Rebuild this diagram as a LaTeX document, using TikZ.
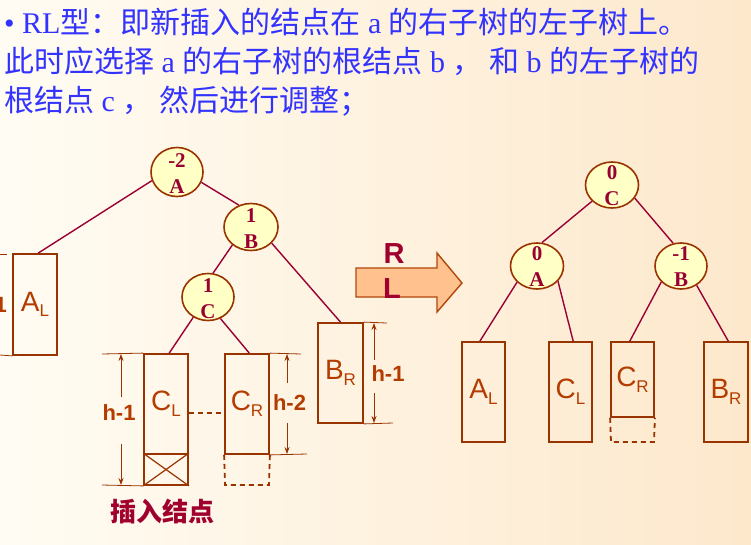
\documentclass[tikz,border=0pt]{standalone}
\usepackage{fontspec}
\setmainfont{Liberation Serif}
\setsansfont{Liberation Sans}
\newfontfamily\cjk{Noto Sans CJK SC}
\usetikzlibrary{arrows.meta,calc,shapes.geometric}
\definecolor{bgA}{HTML}{FFFCF3}
\definecolor{bgB}{HTML}{FDE8CC}
\definecolor{titleblue}{HTML}{3333FF}
\definecolor{nodefill}{HTML}{FFFFC6}
\definecolor{brownline}{HTML}{993300}
\definecolor{edgered}{HTML}{990033}
\definecolor{labelcol}{HTML}{B43C00}
\definecolor{darkred}{HTML}{A0002E}
\definecolor{arrowfill}{HTML}{FFC18E}
\definecolor{arrowline}{HTML}{B0460A}
\newcommand\sublab[2]{#1\raisebox{-0.2em}{\fontsize{17}{17}\selectfont #2}}
\begin{document}
\begin{tikzpicture}[x=1pt,y=-1pt,
  bal/.style={ellipse, draw=brownline, line width=1.6pt, fill=nodefill, minimum width=53pt, minimum height=47pt, inner sep=0pt},
  baltxt/.style={font=\fontsize{21}{21}\selectfont\bfseries, text=edgered, inner sep=0pt},
  edge/.style={draw=edgered, line width=1.4pt},
  box/.style={draw=brownline, line width=1.8pt, minimum width=44pt, inner sep=0pt, text=labelcol, font=\sffamily\fontsize{28}{28}\selectfont},
  dashbox/.style={draw=brownline, line width=1.8pt, dash pattern=on 5pt off 4pt},
  dim/.style={draw=brownline, line width=0.8pt},
  dimarrow/.style={dim, -{Stealth[length=7pt,width=5pt]}},
  dimtxt/.style={font=\sffamily\bfseries\fontsize{22}{22}\selectfont, text=labelcol, inner sep=0pt},
  bigtxt/.style={font=\sffamily\bfseries\fontsize{29}{29}\selectfont, text=darkred, inner sep=0pt},
  title/.style={anchor=base west, inner sep=0pt, text=titleblue, font=\fontsize{30}{30}\selectfont}
]
\useasboundingbox (0,0) rectangle (751,544);
\fill[left color=bgA, right color=bgB] (0,0) rectangle (751,544);

% title
\node[title] (t1) at (4,33) {• RL{\cjk 型：即新插入的结点在} a {\cjk 的右子树的左子树上。}};
\node[title] (t2) at (4,72) {{\cjk 此时应选择} a {\cjk 的右子树的根结点} b {\cjk ，~和} b {\cjk 的左子树的}};
\node[title] (t3) at (4,111) {{\cjk 根结点} c {\cjk ，~然后进行调整；}};

% ---------- left tree ----------
\node[bal, minimum width=52pt, minimum height=49pt] (A) at (177,172) {};
\node[bal, minimum width=54pt] (B) at (251,227) {};
\node[bal, minimum width=52pt] (C) at (208,297) {};

\node[box, minimum height=101pt] (AL) at (35,304.5) {\sublab{A}{L}};
\node[box, minimum height=100pt] (CL) at (166,404) {\sublab{C}{L}};
\node[box, minimum height=31pt] (CLx) at (166,469.5) {};
\node[box, minimum height=100pt] (CR) at (247,404) {\sublab{C}{R}};
\node[box, minimum width=45pt, minimum height=100pt] (BR) at (340.5,373) {\sublab{B}{R}};

\draw[brownline, line width=1.2pt] (CLx.north west) -- (CLx.south east) (CLx.north east) -- (CLx.south west);
\coordinate (crd1) at (225,485);
\coordinate (crd2) at (269,485);
\draw[dashbox] (CR.south west) -- (crd1) -- (crd2) -- (CR.south east);
\draw[dim, line width=1.4pt, dash pattern=on 5pt off 4pt] ([yshift=-9pt]CL.east) -- ([yshift=-9pt]CR.west);

\draw[edge] (A.199) -- ($(AL.north west)!0.57!(AL.north east)$);
\draw[edge] (A.337) -- (B.119);
\draw[edge] (B.224) -- (C.78);
\draw[edge] (B.322) -- (BR.north);
\draw[edge] (C.234) -- ($(CL.north west)!0.57!(CL.north east)$);
\draw[edge] (C.300) -- ($(CR.north west)!0.55!(CR.north east)$);

\node[baltxt] at ([yshift=11pt]A.center) {-2};
\node[baltxt] at ([yshift=-15pt]A.center) {A};
\node[baltxt] at ([yshift=11pt]B.center) {1};
\node[baltxt] at ([yshift=-15pt]B.center) {B};
\node[baltxt] at ([yshift=11pt]C.center) {1};
\node[baltxt] at ([yshift=-15pt]C.center) {C};

% dimensions
\coordinate (a1) at (0,254); \coordinate (a2) at (7,254); \coordinate (a3) at (0,355);
\draw[dim] (a1) -- (a2);
\draw[dim] (a3) -- (AL.south west);
\node[dimtxt, anchor=east] (hA) at (7,305) {h-1};

\coordinate (d1t) at (121,354); \coordinate (d1b) at (121,485);
\coordinate (d1u) at (121,397); \coordinate (d1l) at (121,444);
\coordinate (d1a) at (102,354); \coordinate (d1c) at (102,485);
\draw[dim] (CL.north west) -- (d1a);
\draw[dim] (CLx.south west) -- (d1c);
\draw[dimarrow] (d1u) -- (d1t);
\draw[dimarrow] (d1l) -- (d1b);
\node[dimtxt] (h1) at (119,413) {h-1};

\coordinate (d2t) at (287,354); \coordinate (d2b) at (287,454);
\coordinate (d2u) at (287,383); \coordinate (d2l) at (287,423);
\coordinate (d2a) at (301,354); \coordinate (d2c) at (307,454);
\draw[dim] (CR.north east) -- (d2a);
\draw[dim] (CR.south east) -- (d2c);
\draw[dimarrow] (d2u) -- (d2t);
\draw[dimarrow] (d2l) -- (d2b);
\node[dimtxt] (h2) at (289.5,403) {h-2};

\coordinate (d3t) at (374,323); \coordinate (d3b) at (374,423);
\coordinate (d3u) at (374,360); \coordinate (d3l) at (374,393);
\coordinate (d3a) at (387,323); \coordinate (d3c) at (393,423);
\draw[dim] (BR.north east) -- (d3a);
\draw[dim] (BR.south east) -- (d3c);
\draw[dimarrow] (d3u) -- (d3t);
\draw[dimarrow] (d3l) -- (d3b);
\node[dimtxt] (h3) at (388,373.5) {h-1};

\node[font=\cjk\bfseries\fontsize{26}{26}\selectfont, text=darkred, inner sep=0pt] (ins) at (162,512) {插入结点};

% ---------- block arrow ----------
\draw[fill=arrowfill, draw=arrowline, line width=1.4pt]
  (356,268) -- (437,268) -- (437,253) -- (462,283) -- (437,312) -- (437,297) -- (356,297) -- cycle;
\node[bigtxt] (R) at (394,254) {R};
\node[bigtxt] (L) at (392,289) {L};

% ---------- right tree ----------
\node[bal, minimum height=46pt] (C2) at (612,185) {};
\node[bal, minimum height=46pt] (A2) at (537,266) {};
\node[bal, minimum width=52pt, minimum height=46pt] (B2) at (681,266) {};

\node[box, minimum width=43pt, minimum height=100pt] (AL2) at (483.5,392) {\sublab{A}{L}};
\node[box, minimum width=43pt, minimum height=100pt] (CL2) at (570.5,392) {\sublab{C}{L}};
\node[box, minimum width=43pt, minimum height=75pt] (CR2) at (632.5,379.5) {\sublab{C}{R}};
\node[box, minimum width=44pt, minimum height=100pt] (BR2) at (726,392) {\sublab{B}{R}};
\coordinate (crr1) at (611,442);
\coordinate (crr2) at (654,442);
\draw[dashbox] (CR2.south west) -- (crr1) -- (crr2) -- (CR2.south east);

\draw[edge] (C2.219) -- (A2.78);
\draw[edge] (C2.330) -- (B2.109);
\draw[edge] (A2.219) -- ($(AL2.north west)!0.42!(AL2.north east)$);
\draw[edge] (A2.324) -- ($(CL2.north west)!0.56!(CL2.north east)$);
\draw[edge] (B2.219) -- ($(CR2.north west)!0.44!(CR2.north east)$);
\draw[edge] (B2.309) -- ($(BR2.north west)!0.55!(BR2.north east)$);

\node[baltxt] at ([yshift=12pt]C2.center) {0};
\node[baltxt] at ([yshift=-14pt]C2.center) {C};
\node[baltxt] at ([yshift=12pt]A2.center) {0};
\node[baltxt] at ([yshift=-14pt]A2.center) {A};
\node[baltxt] at ([yshift=12pt]B2.center) {-1};
\node[baltxt] at ([yshift=-14pt]B2.center) {B};
\end{tikzpicture}
\end{document}
